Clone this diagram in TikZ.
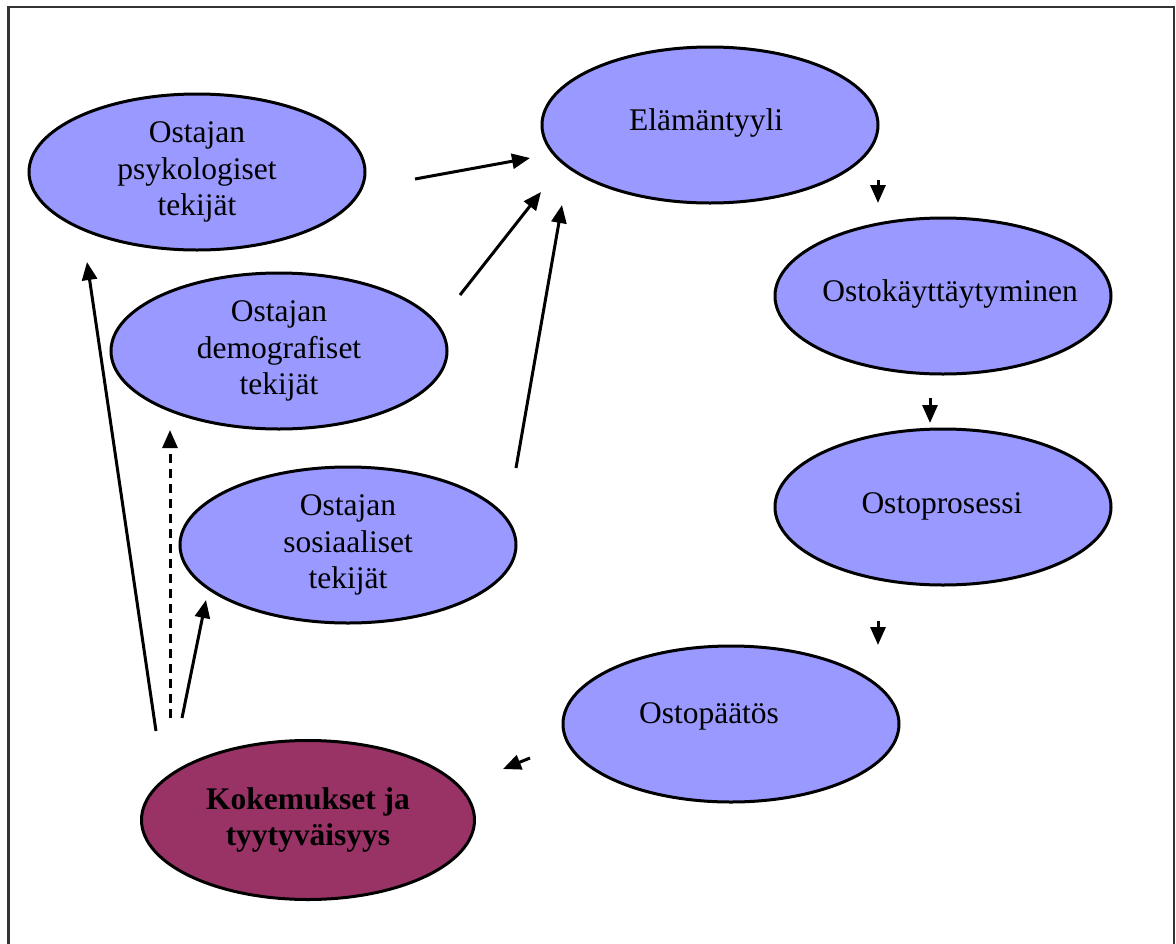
\documentclass[tikz,border=0pt]{standalone}
\usepackage{fontspec}
\setmainfont{Liberation Serif}
\usetikzlibrary{shapes.geometric,arrows.meta}
\definecolor{lilac}{HTML}{9999FF}
\definecolor{plum}{HTML}{993366}
\tikzset{
  oval/.style={ellipse, draw=black, line width=3pt, fill=lilac,
    minimum width=336pt, minimum height=156pt, inner sep=0pt,
    align=center, font=\fontsize{31.5}{36.5}\selectfont},
  lbl/.style={align=center, font=\fontsize{31.5}{36.5}\selectfont, inner sep=0pt},
  conn/.style={line width=3pt, -{Triangle[length=18pt,width=15pt]}},
}
\begin{document}
\begin{tikzpicture}[x=1pt,y=-1pt]
\useasboundingbox (0,0) rectangle (1176,943);
% outer frame, open at the bottom
\draw[line width=2.2pt, black!80] (8.5,960) -- (8.5,7) -- (1174,7) -- (1174,960);

% ovals
\node[oval] (psy) at (197,172) {Ostajan\\psykologiset\\tekijät};
\node[oval] (dem) at (279,351) {Ostajan\\demografiset\\tekijät};
\node[oval] (sos) at (348,545) {Ostajan\\sosiaaliset\\tekijät};
\node[oval] (ela) at (710,125) {};
\node[lbl] at (706,123) {Elämäntyyli};
\node[oval] (kay) at (943,296) {};
\node[lbl] at (950,294) {Ostokäyttäytyminen};
\node[oval] (pro) at (943,507) {};
\node[lbl] at (942,506) {Ostoprosessi};
\node[oval] (paa) at (731,724) {};
\node[lbl] at (709,716) {Ostopäätös};
\node[oval, fill=plum, minimum width=333pt, minimum height=159pt,
      font=\fontsize{31.5}{36.5}\selectfont\bfseries] (kok) at (308,820)
      {Kokemukset ja\\tyytyväisyys};

% connector end points
\coordinate (a1) at (415,179); \coordinate (b1) at (530,158);
\coordinate (a2) at (460,295); \coordinate (b2) at (541,192);
\coordinate (a3) at (516,468); \coordinate (b3) at (562,205);
\coordinate (a4) at (878,180); \coordinate (b4) at (878,203);
\coordinate (a5) at (930,398); \coordinate (b5) at (930,423);
\coordinate (a6) at (878,621); \coordinate (b6) at (878,645);
\coordinate (a7) at (530,758); \coordinate (b7) at (503,769);
\coordinate (a8) at (156,731); \coordinate (b8) at (87,262);
\coordinate (a9) at (170,718); \coordinate (b9) at (170,430);
\coordinate (a10) at (182,718); \coordinate (b10) at (206,600);

\draw[conn] (a1) -- (b1);
\draw[conn] (a2) -- (b2);
\draw[conn] (a3) -- (b3);
\draw[conn] (a4) -- (b4);
\draw[conn] (a5) -- (b5);
\draw[conn] (a6) -- (b6);
\draw[conn] (a7) -- (b7);
\draw[conn] (a8) -- (b8);
\draw[conn, dash pattern=on 9pt off 6pt] (a9) -- (b9);
\draw[conn] (a10) -- (b10);
\end{tikzpicture}
\end{document}
